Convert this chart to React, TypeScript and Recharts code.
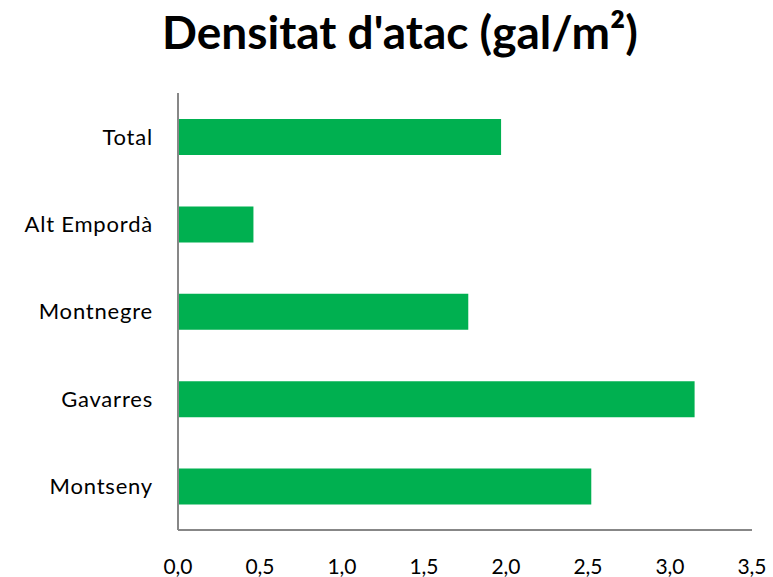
import React from 'react'
import { BarChart, Bar, XAxis, YAxis } from 'recharts'

const zones = ['Total', 'Alt Empordà', 'Montnegre', 'Gavarres', 'Montseny']
const density = [1.97, 0.46, 1.77, 3.15, 2.52]
const xTicks = [0, 0.5, 1, 1.5, 2, 2.5, 3, 3.5]

const data = zones.map((zone, i) => ({ zone, value: density[i] }))

export default function App() {
  return (
    <div style={styles.page}>
      <div style={styles.title}>Densitat d'atac (gal/m²)</div>
      <BarChart
        width={773}
        height={577}
        data={data}
        layout="vertical"
        margin={{ top: 93, right: 21, bottom: 0, left: 0 }}
      >
        <XAxis
          type="number"
          domain={[0, 3.5]}
          ticks={xTicks}
          tickFormatter={(v: number) => v.toFixed(1).replace('.', ',')}
          tickLine={false}
          axisLine={{ stroke: '#878787', strokeWidth: 2 }}
          tick={{ fontSize: 21, fill: '#000', fontFamily: 'Lato' }}
          tickMargin={23}
          height={47}
          interval={0}
        />
        <YAxis
          type="category"
          dataKey="zone"
          tickLine={false}
          axisLine={{ stroke: '#878787', strokeWidth: 2 }}
          tick={{ fontSize: 22, fill: '#000', fontFamily: 'Lato', letterSpacing: 0.8 }}
          tickMargin={19}
          width={178}
        />
        <Bar dataKey="value" fill="#00B050" barSize={36} isAnimationActive={false} />
      </BarChart>
    </div>
  )
}

const styles: Record<string, React.CSSProperties> = {
  page: {
    position: 'absolute',
    left: 0,
    top: 0,
    width: 773,
    height: 577,
    background: '#fff',
  },
  title: {
    position: 'absolute',
    left: 0,
    top: 4,
    width: 800,
    textAlign: 'center',
    fontFamily: 'Lato',
    fontWeight: 700,
    fontSize: 46,
    color: '#000',
  },
}
